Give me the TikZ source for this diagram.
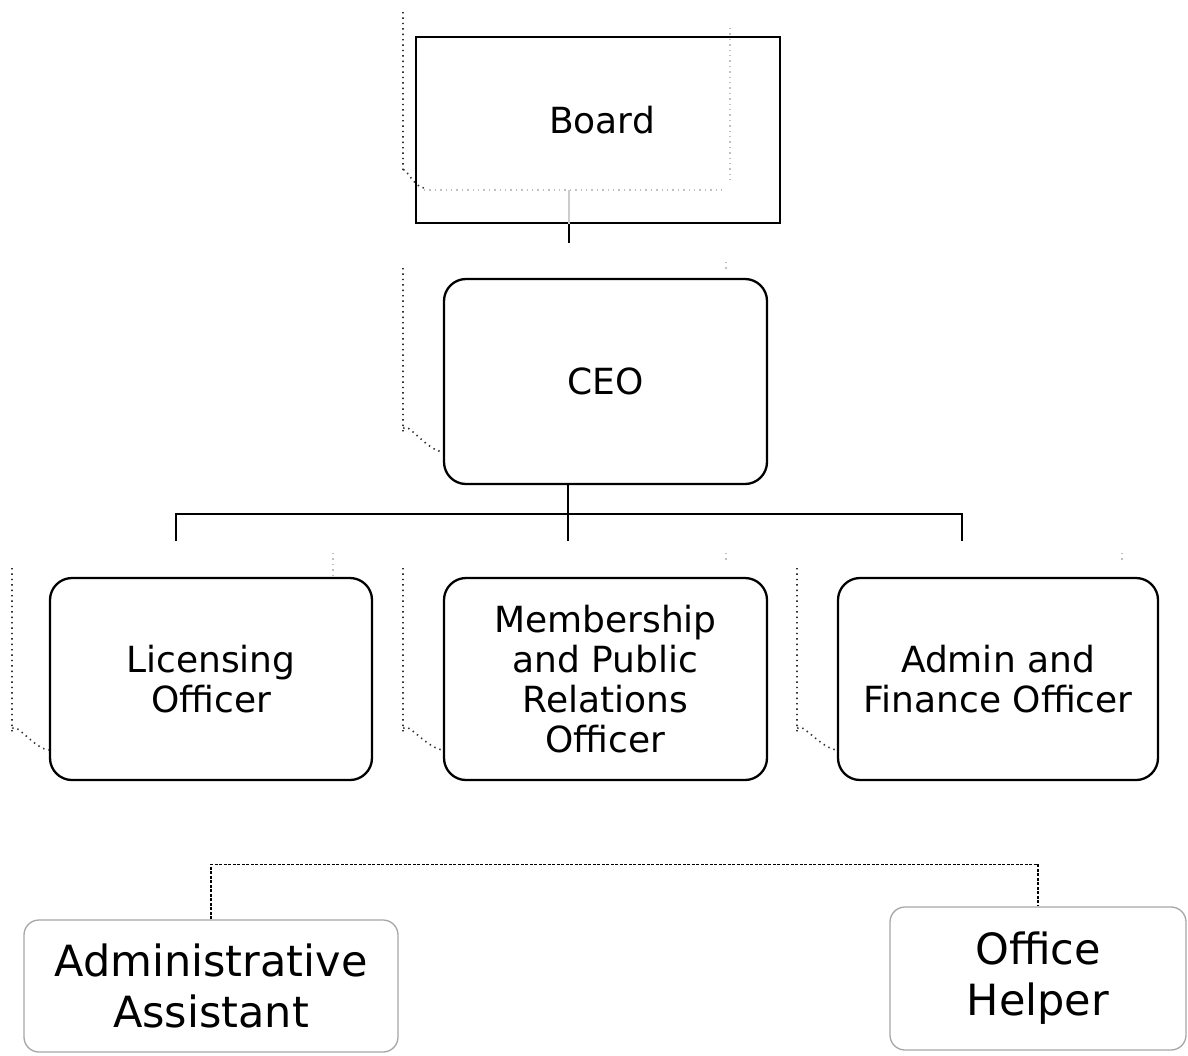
\documentclass[tikz,border=0pt]{standalone}
\usepackage{fontspec}
\setmainfont{DejaVu Sans}
\begin{document}
\begin{tikzpicture}[x=1pt,y=-1pt,
  topbox/.style={draw=black,line width=2.3pt,rounded corners=22pt,minimum width=322pt,minimum height=202pt,inner sep=0pt,align=center,font=\fontsize{36}{40}\selectfont},
  lowbox/.style={draw=black!35,line width=1.3pt,rounded corners=15pt,inner sep=0pt,align=center,font=\fontsize{43}{51}\selectfont},
  conn/.style={line width=2pt,black},
  ghost/.style={line width=1.6pt,black!80,dash pattern=on 1.4pt off 4pt},
  faint/.style={line width=1.2pt,black!25,dash pattern=on 1.4pt off 4pt}]
\useasboundingbox (0,0) rectangle (1188,1055);
% ghost placeholder traces
\draw[ghost] (403,12) -- (403,172) to[out=90,in=180] (424,188);
\draw[faint] (424,190) -- (725,190);
\draw[faint] (730,28) -- (730,180);
\draw[ghost] (403,268) -- (403,432) to[out=90,in=180] (444,452);
\draw[faint] (726,262) -- (726,272);
\draw[ghost] (12,568) -- (12,732) to[out=90,in=180] (50,750);
\draw[faint] (333,553) -- (333,576);
\draw[ghost] (403,568) -- (403,732) to[out=90,in=180] (444,750);
\draw[faint] (726,553) -- (726,560);
\draw[ghost] (797,568) -- (797,732) to[out=90,in=180] (838,750);
\draw[faint] (1122,553) -- (1122,560);
% boxes
\node[draw=black,line width=2.6pt,minimum width=364pt,minimum height=186pt,inner sep=0pt,font=\fontsize{36}{40}\selectfont] (Board) at (598,130) {\hspace*{8pt}\raisebox{20pt}{Board}};
\node[topbox,minimum width=323pt,minimum height=205pt] (CEO) at (605.5,381.5) {CEO};
\node[topbox] (LO) at (211,679) {Licensing\\Officer};
\node[topbox,minimum width=323pt] (MPR) at (605.5,679) {Membership\\and Public\\Relations\\Officer};
\node[topbox,minimum width=320pt] (AFO) at (998,679) {Admin and\\Finance Officer};
\node[lowbox,minimum width=374pt,minimum height=132pt] (AA) at (211,986) {Administrative\\Assistant};
\node[lowbox,minimum width=296pt,minimum height=143pt] (OH) at (1038,978.5) {Office\\Helper};
% connectors
\coordinate (c0) at (569,243);
\draw[line width=1.5pt,black!20] (569,190) -- (Board.south -| c0);
\draw[conn] (Board.south -| c0) -- (c0);
\coordinate (cm) at (568,541);
\coordinate (cl) at (176,541);
\coordinate (cr) at (962,541);
\draw[conn] (CEO.south -| cm) -- (cm);
\draw[conn] (cl) -- (176,514) -- (962,514) -- (cr);
\draw[line width=1.1pt,dash pattern=on 3pt off 1.5pt] (AA.north) -- ++(0,-55) -| (OH.north);
\end{tikzpicture}
\end{document}
